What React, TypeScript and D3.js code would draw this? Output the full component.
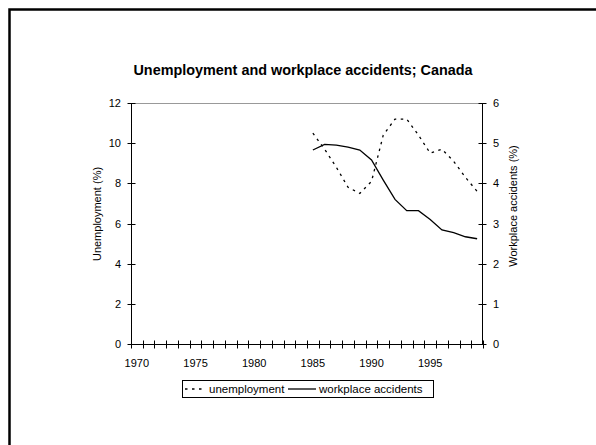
import React from "react";
import * as d3 from "d3";

// categories (x axis): one band per year
const years: number[] = [
  1970, 1971, 1972, 1973, 1974, 1975, 1976, 1977, 1978, 1979,
  1980, 1981, 1982, 1983, 1984, 1985, 1986, 1987, 1988, 1989,
  1990, 1991, 1992, 1993, 1994, 1995, 1996, 1997, 1998, 1999,
];
const yearLabels: number[] = [1970, 1975, 1980, 1985, 1990, 1995];

// series
const dataYears: number[] = [1985, 1986, 1987, 1988, 1989, 1990, 1991, 1992, 1993, 1994, 1995, 1996, 1997, 1998, 1999];
const unemployment: number[] = [10.5, 9.7, 8.8, 7.8, 7.5, 8.1, 10.4, 11.2, 11.2, 10.4, 9.5, 9.7, 9.1, 8.3, 7.6];
const accidents: number[] = [4.83, 4.97, 4.95, 4.9, 4.83, 4.58, 4.08, 3.6, 3.32, 3.32, 3.1, 2.84, 2.77, 2.67, 2.62];

// tick labels
const leftTicks: number[] = [0, 2, 4, 6, 8, 10, 12];
const rightTicks: number[] = [0, 1, 2, 3, 4, 5, 6];

const W = 596;
const H = 445;
const FONT = "'Liberation Sans', Arial, Helvetica, sans-serif";

export default function App() {
  const left = 131;
  const right = 483;
  const top = 103;
  const bottom = 344;

  const x = d3.scaleBand<number>().domain(years).range([left, right]).padding(0);
  const yL = d3.scaleLinear().domain([0, 12]).range([bottom, top]);
  const yR = d3.scaleLinear().domain([0, 6]).range([bottom, top]);
  const cx = (yr: number) => (x(yr) as number) + x.bandwidth() / 2;

  const unempLine = d3
    .line<number>()
    .x((_, i) => cx(dataYears[i]))
    .y((d) => yL(d));
  const accLine = d3
    .line<number>()
    .x((_, i) => cx(dataYears[i]))
    .y((d) => yR(d));

  const tickEdges = [...years.map((yr) => x(yr) as number), right];

  const legX = 182;
  const legY = 380;
  const legW = 251;
  const legH = 17;

  return (
    <svg
      width={W}
      height={H}
      style={{ position: "absolute", left: 0, top: 0, overflow: "hidden", background: "#fff" }}
      fontFamily={FONT}
    >
      <rect x={0} y={0} width={W} height={H} fill="#fff" />
      {/* outer chart frame */}
      <rect x={9.5} y={9.5} width={W + 40} height={H + 40} fill="none" stroke="#000" strokeWidth={2.5} />

      {/* title */}
      <text x={303} y={75} textAnchor="middle" fontSize={14.4} fontWeight="bold" fill="#000">
        Unemployment and workplace accidents; Canada
      </text>

      {/* plot area border (top, gray) */}
      <line x1={left} x2={right} y1={top + 0.5} y2={top + 0.5} stroke="#999" strokeWidth={1} />

      {/* left axis */}
      <line x1={left + 0.5} x2={left + 0.5} y1={top} y2={bottom} stroke="#000" strokeWidth={1} />
      {leftTicks.map((t) => (
        <g key={"l" + t}>
          <line x1={left - 3.5} x2={left + 4.5} y1={Math.round(yL(t)) + 0.5} y2={Math.round(yL(t)) + 0.5} stroke="#000" />
          <text x={121} y={yL(t) + 4} textAnchor="end" fontSize={11} fill="#000">
            {t}
          </text>
        </g>
      ))}

      {/* right axis */}
      <line x1={right - 0.5} x2={right - 0.5} y1={top} y2={bottom} stroke="#000" strokeWidth={1} />
      {rightTicks.map((t) => (
        <g key={"r" + t}>
          <line x1={right - 4.5} x2={right + 3.5} y1={Math.round(yR(t)) + 0.5} y2={Math.round(yR(t)) + 0.5} stroke="#000" />
          <text x={493} y={yR(t) + 4} textAnchor="start" fontSize={11} fill="#000">
            {t}
          </text>
        </g>
      ))}

      {/* bottom axis */}
      <line x1={left} x2={right} y1={bottom + 0.5} y2={bottom + 0.5} stroke="#000" strokeWidth={1} />
      {tickEdges.map((tx, i) => (
        <line key={"b" + i} x1={Math.round(tx) + 0.5} x2={Math.round(tx) + 0.5} y1={bottom - 3.5} y2={bottom + 4.5} stroke="#000" />
      ))}
      {yearLabels.map((yr) => (
        <text key={"x" + yr} x={cx(yr)} y={367} textAnchor="middle" fontSize={11} fill="#000">
          {yr}
        </text>
      ))}

      {/* axis titles */}
      <text transform={`translate(101,214) rotate(-90)`} textAnchor="middle" fontSize={11} fill="#000">
        Unemployment (%)
      </text>
      <text transform={`translate(517,206) rotate(-90)`} textAnchor="middle" fontSize={11} fill="#000">
        Workplace accidents (%)
      </text>

      {/* series */}
      <path d={unempLine(unemployment) || ""} fill="none" stroke="#000" strokeWidth={1.3} strokeDasharray="2.5,4.5" />
      <path d={accLine(accidents) || ""} fill="none" stroke="#000" strokeWidth={1.3} />

      {/* legend */}
      <rect x={legX + 0.5} y={legY + 0.5} width={legW} height={legH} fill="#fff" stroke="#000" strokeWidth={1} />
      <line x1={legX + 3} x2={legX + 24} y1={legY + 9} y2={legY + 9} stroke="#000" strokeWidth={1.3} strokeDasharray="2.5,4.5" />
      <text x={legX + 27} y={legY + 13} fontSize={11.5} fill="#000">
        unemployment
      </text>
      <line x1={legX + 106} x2={legX + 134} y1={legY + 9} y2={legY + 9} stroke="#000" strokeWidth={1.3} />
      <text x={legX + 137} y={legY + 13} fontSize={11.5} fill="#000">
        workplace accidents
      </text>
    </svg>
  );
}
